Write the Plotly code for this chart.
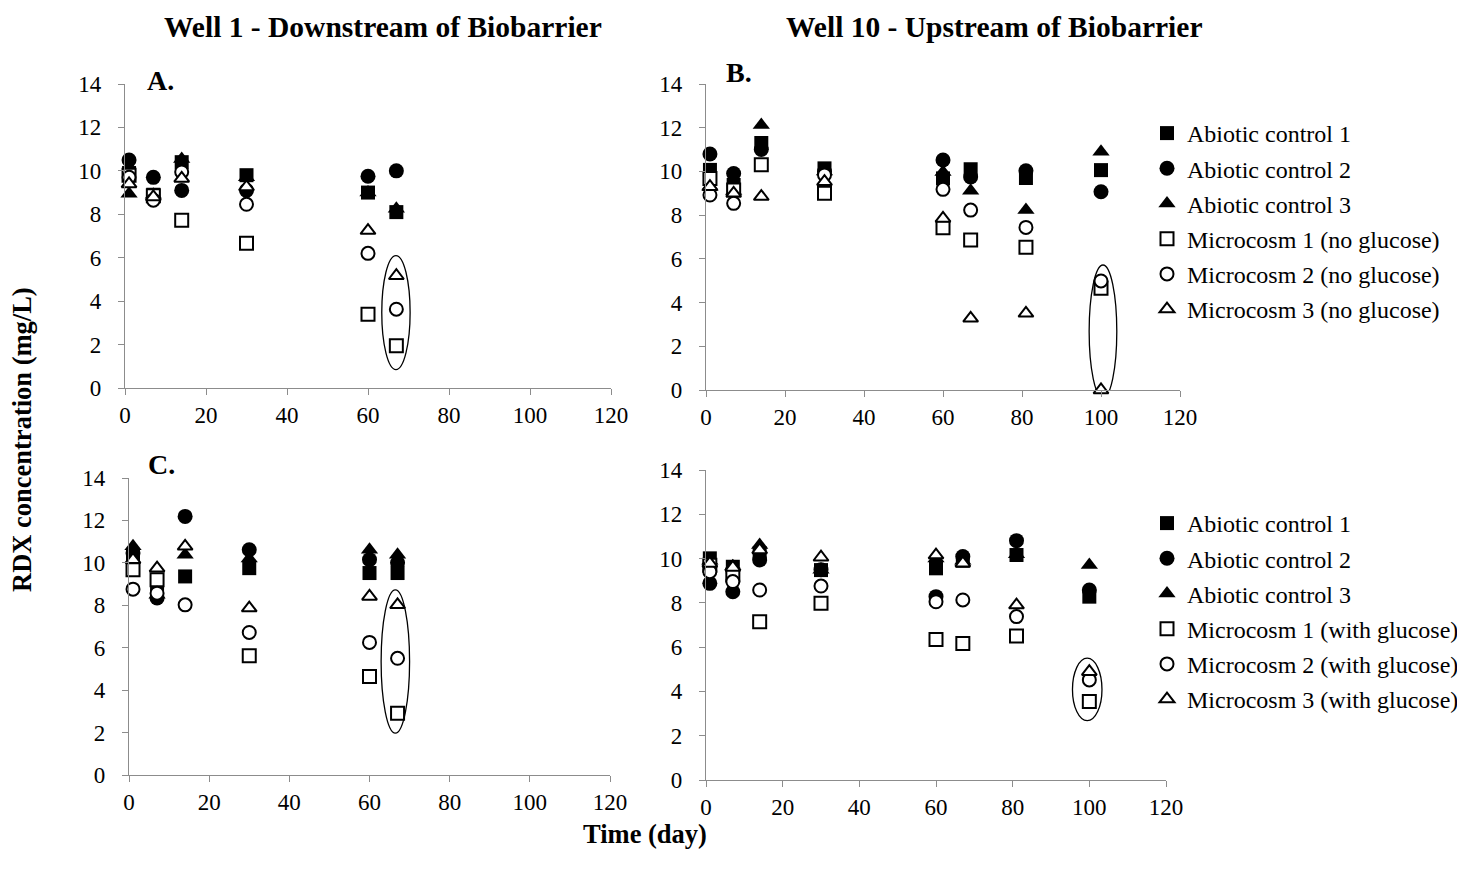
import plotly.graph_objects as go

# ---------------- data ----------------
series_names_top = ["Abiotic control 1", "Abiotic control 2", "Abiotic control 3",
                    "Microcosm 1 (no glucose)", "Microcosm 2 (no glucose)", "Microcosm 3 (no glucose)"]
series_names_bot = ["Abiotic control 1", "Abiotic control 2", "Abiotic control 3",
                    "Microcosm 1 (with glucose)", "Microcosm 2 (with glucose)", "Microcosm 3 (with glucose)"]

days_well1 = [1, 7, 14, 30, 60, 67]
days_well10 = [1, 7, 14, 30, 60, 67, 81, 100]

# Panel A (Well 1, no glucose)
A_ac1 = [9.9, 8.9, 10.4, 9.8, 9.0, 8.1]
A_ac2 = [10.5, 9.7, 9.1, 9.1, 9.75, 10.0]
A_ac3 = [8.95, 8.9, 10.55, 9.7, 9.0, 8.25]
A_m1 = [9.8, 8.85, 7.72, 6.67, 3.4, 1.95]
A_m2 = [9.7, 8.65, 9.95, 8.46, 6.2, 3.63]
A_m3 = [9.4, 8.8, 9.65, 9.26, 7.25, 5.17]

# Panel B (Well 10, no glucose)
B_ac1 = [10.07, 9.38, 11.3, 10.14, 9.68, 10.1, 9.7, 10.06]
B_ac2 = [10.8, 9.9, 11.0, 10.0, 10.52, 9.75, 10.03, 9.07]
B_ac3 = [9.3, 9.1, 12.12, 10.0, 9.97, 9.12, 8.23, 10.9]
B_m1 = [9.68, 9.15, 10.3, 9.0, 7.42, 6.86, 6.53, 4.65]
B_m2 = [8.92, 8.54, None, 9.84, 9.18, 8.23, 7.44, 4.99]
B_m3 = [9.3, 9.0, 8.85, 9.53, 7.85, 3.28, 3.51, 0.0]

# Panel C (Well 1, with glucose)
C_ac1 = [10.3, 8.6, 9.36, 9.75, 9.52, 9.52]
C_ac2 = [10.46, 8.34, 12.19, 10.62, 10.15, 10.0]
C_ac3 = [10.78, 8.5, 10.38, 10.2, 10.62, 10.38]
C_m1 = [9.67, 9.2, None, 5.62, 4.64, 2.91]
C_m2 = [8.76, 8.57, 8.02, 6.72, 6.25, 5.5]
C_m3 = [10.15, 9.75, 10.78, 7.87, 8.42, 8.02]

# Panel D (Well 10, with glucose)
D_ac1 = [10.01, 9.63, 10.24, 9.48, 9.56, 9.9, 10.16, 8.28]
D_ac2 = [8.88, 8.5, 9.94, 9.5, 8.28, 10.09, 10.81, 8.58]
D_ac3 = [9.9, 9.65, 10.61, 9.5, 10.0, 9.9, 10.2, 9.71]
D_m1 = [9.7, 9.26, 7.15, 7.98, 6.35, 6.17, 6.5, 3.54]
D_m2 = [9.41, 8.96, 8.58, 8.76, 8.05, 8.13, 7.38, 4.52]
D_m3 = [9.78, 9.6, 10.39, 10.06, 10.16, 9.79, 7.9, 4.89]

# Ellipses highlighting last sampling (x0, x1, y0, y1 in data units)
ellipse_A = [63.4, 70.4, 0.85, 6.1]
ellipse_B = [97.0, 104.0, -0.37, 5.72]
ellipse_C = [62.9, 70.0, 1.97, 8.73]
ellipse_D = [95.6, 103.3, 2.68, 5.5]

x_ticks = [0, 20, 40, 60, 80, 100, 120]
y_ticks = [0, 2, 4, 6, 8, 10, 12, 14]

# ---------------- styling ----------------
PAGE_W, PAGE_H = 1465, 874
BODY = 8  # default page margin around the plot div
W, H = PAGE_W - 2 * BODY, PAGE_H - 2 * BODY
FONT = "Liberation Serif, Times New Roman, serif"
AXIS_GRAY = "#8c8c8c"

styles = [
    dict(symbol="square", size=14, color="black", line=dict(color="black", width=0)),
    dict(symbol="circle", size=15, color="black", line=dict(color="black", width=0)),
    dict(symbol="triangle-up", size=15, color="black", line=dict(color="black", width=0)),
    dict(symbol="square", size=13, color="white", line=dict(color="black", width=2)),
    dict(symbol="circle", size=13, color="white", line=dict(color="black", width=2)),
    dict(symbol="triangle-up", size=13, color="white", line=dict(color="black", width=2)),
]

def px_x(p):
    return (p - BODY) / W

def px_y(p):
    return 1 - (p - BODY) / H

# panel pixel frames on the page: (x at 0, x at 120, y at 14, y at 0)
frames = {
    "A": (125, 611, 84, 388),
    "B": (706, 1180, 84, 390),
    "C": (129, 610, 478, 775),
    "D": (706, 1166, 470, 780),
}

fig = go.Figure()

panels = [
    ("A", "x", "y", days_well1, [A_ac1, A_ac2, A_ac3, A_m1, A_m2, A_m3], series_names_top, None, ellipse_A),
    ("B", "x2", "y2", days_well10, [B_ac1, B_ac2, B_ac3, B_m1, B_m2, B_m3], series_names_top, "legend", ellipse_B),
    ("C", "x3", "y3", days_well1, [C_ac1, C_ac2, C_ac3, C_m1, C_m2, C_m3], series_names_bot, None, ellipse_C),
    ("D", "x4", "y4", days_well10, [D_ac1, D_ac2, D_ac3, D_m1, D_m2, D_m3], series_names_bot, "legend2", ellipse_D),
]

for key, xa, ya, days, ys, names, leg, ell in panels:
    for i, (yv, nm) in enumerate(zip(ys, names)):
        fig.add_trace(go.Scatter(
            x=days, y=yv, mode="markers", name=nm,
            xaxis=xa, yaxis=ya, marker=styles[i], cliponaxis=False,
            showlegend=leg is not None,
            legend=leg if leg is not None else "legend",
            legendgroup=f"{key}{i}",
        ))
    fig.add_shape(type="circle", xref=xa, yref=ya,
                  x0=ell[0], x1=ell[1], y0=ell[2], y1=ell[3],
                  line=dict(color="black", width=1.3), fillcolor="rgba(0,0,0,0)", layer="above")

axis_common = dict(
    showgrid=False, zeroline=False, showline=True, linecolor=AXIS_GRAY, linewidth=1.3,
    ticks="outside", tickcolor=AXIS_GRAY, tickwidth=1.3, ticklen=6, automargin=False,
    tickfont=dict(family=FONT, size=23, color="black"),
)

layout = dict(
    template="none",
    width=W, height=H, margin=dict(l=0, r=0, t=0, b=0, pad=0, autoexpand=False),
    paper_bgcolor="white", plot_bgcolor="rgba(0,0,0,0)",
    font=dict(family=FONT, color="black"),
)

for idx, key in enumerate(["A", "B", "C", "D"]):
    x0p, x1p, ytop, ybot = frames[key]
    sfx = "" if idx == 0 else str(idx + 1)
    layout["xaxis" + sfx] = dict(axis_common, domain=[px_x(x0p), px_x(x1p)], range=[0, 120],
                                 tickvals=x_ticks, ticklabelstandoff=0,
                                 anchor="y" + sfx)
    layout["yaxis" + sfx] = dict(axis_common, domain=[px_y(ybot), px_y(ytop)], range=[0, 14],
                                 tickvals=y_ticks, ticklabelstandoff=12,
                                 anchor="x" + sfx)

leg_common = dict(
    font=dict(family=FONT, size=24, color="black"),
    bgcolor="rgba(0,0,0,0)", borderwidth=0,
    traceorder="grouped", tracegroupgap=1,
    xanchor="left", yanchor="top", itemclick=False,
)
layout["legend"] = dict(leg_common, x=px_x(1147), y=px_y(111))
layout["legend2"] = dict(leg_common, x=px_x(1147), y=px_y(501))

fig.update_layout(**layout)

bold = lambda s: f"<b>{s}</b>"
annots = [
    (bold("Well 1 - Downstream of Biobarrier"), 383, 27, 29.5, 0),
    (bold("Well 10 - Upstream of Biobarrier"), 994, 27, 29.5, 0),
    (bold("A."), 160, 80, 28, 0),
    (bold("B."), 739, 72, 28, 0),
    (bold("C."), 161, 464, 28, 0),
    (bold("Time (day)"), 645, 834, 26.5, 0),
    (bold("RDX concentration (mg/L)"), 22, 440, 26.5, -90),
]
for txt, xp, yp, sz, ang in annots:
    fig.add_annotation(text=txt, x=px_x(xp), y=px_y(yp), xref="paper", yref="paper",
                       showarrow=False, xanchor="center", yanchor="middle",
                       textangle=ang, font=dict(family=FONT, size=sz, color="black"))

fig.write_html("out.html")
